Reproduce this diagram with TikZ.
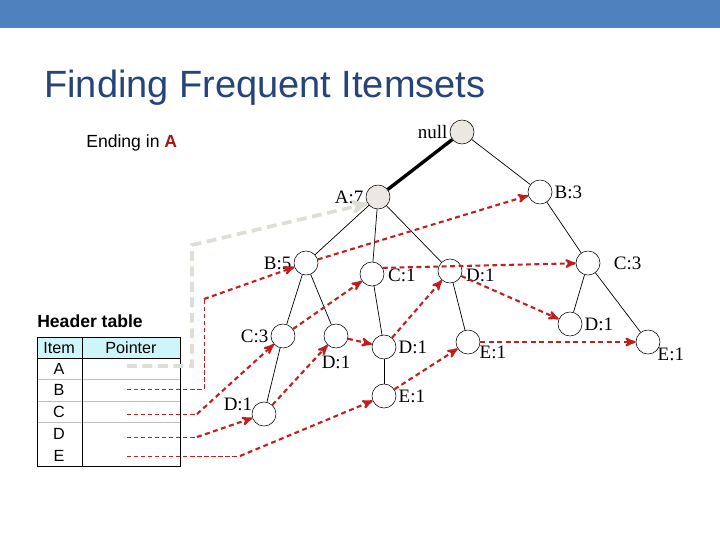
\documentclass[tikz,border=0pt]{standalone}
\usepackage{fontspec}
\setmainfont{Liberation Serif}
\newfontfamily\arialfont{Liberation Sans}
\usetikzlibrary{arrows,positioning}

\definecolor{barblue}{RGB}{79,129,189}
\definecolor{titleblue}{RGB}{38,68,120}
\definecolor{linkred}{RGB}{192,32,32}
\definecolor{darkred}{RGB}{170,20,20}
\definecolor{rootgray}{RGB}{234,232,224}
\definecolor{linkgray}{RGB}{222,222,212}
\definecolor{headcyan}{RGB}{206,246,250}

\begin{document}
\begin{tikzpicture}[x=0.025cm,y=-0.025cm,>=stealth',
    item/.style={circle,draw,thin,minimum size=0.6cm,inner sep=0pt},
    every label/.style={font=\fontsize{13.5}{14}\selectfont,inner sep=1.5pt},
    tree/.style={draw,line width=0.5pt},
    link/.style={draw=linkred,line width=1.5pt,dash pattern=on 3.5pt off 2.5pt,
                 every edge/.append style={->}},
    hlink/.style={draw=linkred,line width=0.6pt,dash pattern=on 3pt off 2pt},
    alink/.style={->,draw=linkgray,line width=2.6pt,dash pattern=on 7pt off 4pt},
    cell/.style={font=\arialfont\fontsize{11.5}{12}\selectfont,inner sep=0pt}]
  \useasboundingbox (0,0) rectangle (720,540);

  % slide frame
  \fill[barblue] (0,0) rectangle (720,28);
  \node[anchor=base west,inner sep=0pt,text=titleblue,
        font=\arialfont\fontsize{27}{28}\selectfont] (title) at (44,97) {Finding Frequent Itemsets};
  \node[anchor=west,inner sep=0pt,font=\arialfont\fontsize{12.5}{13}\selectfont] (ending) at (86,143)
    {Ending in \textbf{\textcolor{darkred}{A}}};

  % header table
  \node[anchor=west,inner sep=0pt,font=\arialfont\bfseries\fontsize{12.5}{13}\selectfont] (htitle) at (37,321) {Header table};
  \fill[headcyan] (37,337) rectangle (180,358);
  \draw[gray!50] (37,379) -- (180,379) (37,401) -- (180,401) (37,422) -- (180,422);
  \draw (37,358) -- (180,358) (82,337) -- (82,466);
  \draw (37,337) rectangle (180,466);
  \node[cell] (h_item) at (59,348) {Item};
  \node[cell] (h_ptr) at (131,348) {Pointer};
  \node[cell] (h_A) at (59,369) {A};
  \node[cell] (h_B) at (59,390) {B};
  \node[cell] (h_C) at (59,412) {C};
  \node[cell] (h_D) at (59,434) {D};
  \node[cell] (h_E) at (59,456) {E};
  \coordinate (p_A) at (127,366);
  \coordinate (p_B) at (127,389);
  \coordinate (p_C) at (127,414);
  \coordinate (p_D) at (127,437);
  \coordinate (p_E) at (127,456);

  % FP-tree
  \node[item,fill=rootgray,label={left:null}] (null) at (462,132) {};
  \node[item,fill=rootgray,label={left:A:7}] (a7) at (378,197) {};
  \node[item,label={right:B:3}] (b3) at (540,192) {};
  \node[item,label={left:B:5}] (b5) at (306,263) {};
  \node[item,label={[label distance=1pt,yshift=-1pt]right:C:1}] (c1) at (372,274) {};
  \node[item,label={[label distance=1pt,yshift=-3pt]right:D:1}] (d1a) at (450,271) {};
  \node[item,label={left:C:3}] (c3) at (283,336) {};
  \node[item,label={[label distance=4pt]below:D:1}] (d1b) at (336,336) {};
  \node[item,label={right:D:1}] (d1c) at (384,347) {};
  \node[item,label={right:E:1}] (e1a) at (384,396) {};
  \node[item,label={[label distance=-2pt]172:D:1}] (d1d) at (264,414) {};
  \node[item,label={[label distance=-2pt]-12:E:1}] (e1b) at (468,342) {};
  \node[item,label={[label distance=8pt]right:C:3}] (c3b) at (588,263) {};
  \node[item,label={right:D:1}] (d1e) at (570,324) {};
  \node[item,label={[label distance=-3pt]-25:E:1}] (e1c) at (648,342) {};

  \path[tree]
    (null) edge[line width=2.4pt] (a7)
    (null) edge (b3)
    (a7) edge (b5) edge (c1) edge (d1a)
    (b5) edge (c3) edge (d1b)
    (c3) edge (d1d)
    (c1) edge (d1c)
    (d1c) edge (e1a)
    (d1a) edge (e1b)
    (b3) edge (c3b)
    (c3b) edge (d1e) edge (e1c);

  % node-links
  \draw[alink] (p_A) -- (192,366) -- (192,245) -- (a7.212);
  \draw[hlink] (p_B) -- (204,389) -- (204,299);
  \draw[hlink] (p_C) -- (197,414);
  \draw[hlink] (p_D) -- (197,437);
  \draw[hlink] (p_E) -- (240,456);
  \path[link]
    (204,299) edge (b5)
    (b5) edge (b3)
    (197,414) edge (c3)
    (c3) edge (c1)
    (c1.30) edge (c3b)
    (197,437) edge (d1d)
    (d1d) edge (d1b)
    (d1b) edge (d1c)
    (d1c) edge (d1a)
    (d1a) edge (d1e)
    (240,456) edge (e1a)
    (e1a) edge (e1b)
    (e1b) edge (e1c);
\end{tikzpicture}
\end{document}
